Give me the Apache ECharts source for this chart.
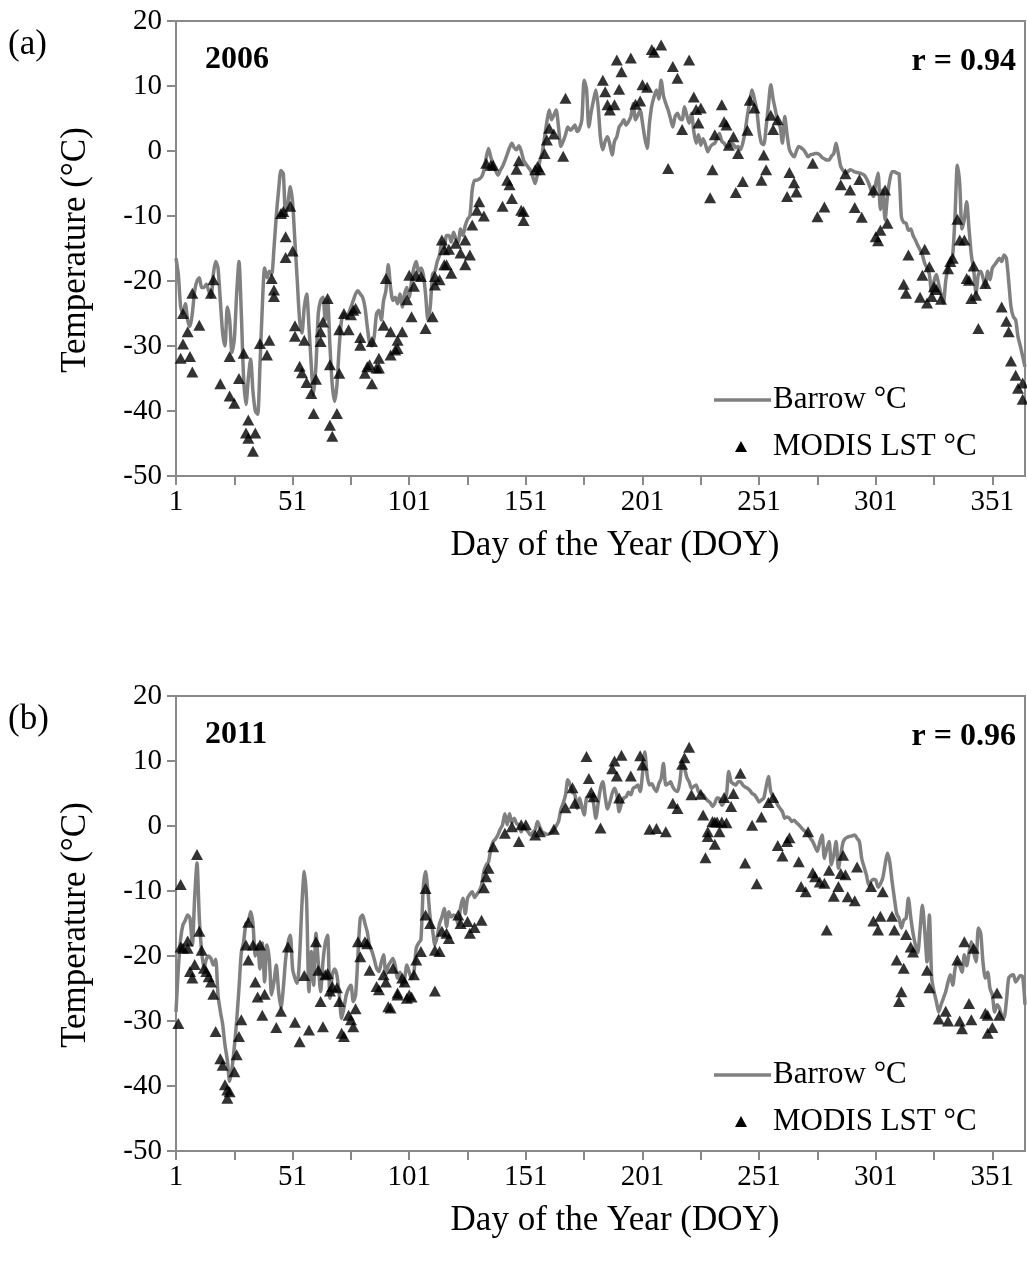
<!DOCTYPE html>
<html>
<head>
<meta charset="utf-8">
<script src="https://cdn.jsdelivr.net/npm/echarts/dist/echarts.min.js"></script>
<style>
html,body{margin:0;padding:0;background:#fff;}
#chart{width:1027px;height:1267px;}
</style>
</head>
<body>
<div id="chart"></div>
<script>
// ---------- DATA ----------
var xTickLabels = ['1','51','101','151','201','251','301','351'];
var yTicks = [-50,-40,-30,-20,-10,0,10,20];

// Barrow daily air temperature, DOY 1..365, 2006
var barrowA = [
-16.5,-19,-24,-25,-23.5,-26,-27,-25,-21.5,-20,
-19.5,-21,-21,-20.5,-21.5,-22.5,-19,-17,-18,-23,
-28,-30,-24,-26,-31,-29,-22,-17,-25,-35,
-39,-35,-32,-37,-40,-40.5,-33,-24,-18,-19.5,
-18.5,-19,-15,-10,-6,-3,-3.5,-10,-8,-5.5,
-8,-14,-20,-26,-28,-24,-22,-27,-33,-37.5,
-33,-25,-23,-22.5,-26,-23,-30,-36,-38.5,-36,
-30,-26,-25,-25.5,-25,-24,-23,-22,-21.5,-22,
-22.5,-24,-27,-29.5,-30,-28.5,-25,-24.5,-26,-23,
-21.5,-17.5,-21,-23,-22.5,-23.5,-22,-24,-22,-21,
-22.5,-20,-18,-17,-18.5,-18,-19,-22,-26,-24,
-19,-18.5,-17,-16,-14,-15,-13,-13,-14,-12.5,
-13.5,-14,-12,-13,-11.5,-10.5,-10,-6,-4.5,-4.5,
-4.3,-4,-3,-1,0.4,-1,-2,-3,-3.7,-3,
-2.4,-1.5,-0.5,0.5,1.2,0.5,0.2,0.8,0,-1.4,
-2,-2.5,-3,-4,-5,-3.5,-1.5,-0.3,2,4.5,
6.3,4.8,5.5,6.3,3.7,0.7,1.5,2.5,3.7,3.2,
3.5,4,3,3.5,4.8,10.9,9.5,3.7,6,7.8,
9.4,6.8,2,0.2,1.5,2.2,1,-0.6,1.5,2.2,
3.7,4.2,4.8,4,4.5,5.3,7.3,4.8,5.5,6.3,
4.3,2,0.4,4.3,7,8.4,9.4,8,10.9,8.5,
7.3,6.3,5,3.7,5.3,5.8,5,4.8,6.8,5.5,
4.3,5.8,3,1.2,2.5,0.9,1.9,1,-0.1,0.6,
1,1.2,2,2.7,1.5,1.2,0.7,0.7,1.2,1,
0.5,0.7,0.2,1.2,3,5.5,7.5,9.4,8,6.3,
3,1.2,1,3.7,7,10.2,8,6.3,4.5,3.7,
1.2,5.3,2.5,0.2,-0.5,-0.9,0,0.7,0.5,0.2,
-0.3,-0.9,-0.6,-0.5,-0.4,-0.4,-0.6,-1,-1.2,-1.4,
-1.4,-0.8,-0.4,1.2,-0.5,-2.4,-3,-3.4,-3.2,-2.9,
-3,-3.2,-3.3,-3.4,-3.5,-3.7,-4.2,-5,-6,-7,
-5,-3.4,-9,-6,-10.6,-7,-4.5,-3.2,-3.2,-3.4,
-3.5,-10.1,-11,-11.1,-12.2,-12,-13,-13.7,-14.5,-15.2,
-16,-17.3,-18,-19,-21.9,-20,-19,-20.5,-22,-23.4,
-20,-18,-17,-16,-10,-2.2,-5,-12,-10.5,-7.8,
-12,-16,-18.3,-21.9,-19,-18.5,-19.5,-20.9,-18.5,-19.8,
-18,-17.5,-17,-16.5,-17,-16,-16.5,-20,-24,-25.5,
-26,-28.6,-30,-31.6,-33.2
];

// MODIS LST [DOY, °C], 2006
var modisA = [
[3,-31.9],[4,-29.7],[4,-25],[6,-27.8],[7,-31.6],[8,-34],[8,-21.9],[11,-26.8],[16,-21.9],[17,-19.8],
[20,-35.8],[24,-31.6],[24,-37.7],[26,-38.8],[28,-35],[30,-31.1],[32,-41.4],[31,-43.4],[32,-44.2],[35,-43.4],
[34,-46.2],[37,-29.6],[40,-31.4],[41,-29.1],[42,-19.6],[43,-21.4],[43,-22.4],[46,-9.6],[47,-9.3],[50,-8.5],
[48,-13.2],[51,-15.4],[48,-16.4],[52,-26.9],[52,-28.5],[54,-33.1],[55,-34.1],[56,-29.1],[57,-35.6],[59,-37.3],
[60,-40.4],[61,-35.1],[63,-29.3],[63,-27.8],[64,-26.3],[66,-22.7],[67,-32.9],[67,-42.2],[68,-43.9],[70,-40.4],
[71,-34.2],[71,-27.5],[73,-25],[75,-27.5],[76,-25.2],[77,-24.5],[78,-24.2],[80,-28.7],[80,-29.9],[82,-34.2],
[83,-33.2],[84,-32.9],[85,-35.8],[85,-29.3],[87,-33.4],[88,-33.4],[88,-31.9],[90,-26.8],[91,-19.6],[93,-27.8],
[93,-31.4],[95,-30.6],[96,-29.1],[96,-30.4],[98,-27.8],[100,-22.9],[101,-19.1],[102,-25.5],[103,-20.8],[104,-19.1],
[106,-19.3],[108,-27.3],[111,-25.5],[112,-19.3],[112,-20.6],[114,-19.8],[115,-13.7],[116,-15.2],[116,-17.5],[117,-17.5],
[118,-15.1],[119,-18.8],[121,-14.2],[123,-15.7],[125,-13.7],[127,-16],[125,-17.5],[128,-11.4],[130,-9.1],[131,-7.8],
[133,-10],[134,-1.9],[136,-2.2],[137,-2.2],[141,-8.5],[143,-4.5],[144,-5.2],[145,-7.3],[147,-2.8],[148,-1.5],
[149,-9.1],[150,-9.3],[150,-10.7],[155,-2.9],[156,-2.4],[157,-2.9],[159,-0.4],[160,1.7],[161,3.5],[163,2.6],
[167,-0.8],[168,8.1],[184,10.9],[185,9.1],[186,7.1],[187,6.3],[189,7.1],[190,14],[192,12.2],[191,9.5],
[196,14.3],[198,7.2],[200,7.7],[201,10.2],[203,9.8],[205,15.6],[206,15.2],[209,16.3],[212,-2.7],[214,13],
[216,11.2],[218,3.3],[221,14],[223,8.3],[224,6.4],[225,4.3],[226,6.6],[231,-2.9],[230,-7.2],[232,2.5],
[235,7.1],[236,4.5],[237,4],[240,2.2],[238,0.9],[241,-6.4],[244,-4.7],[242,-0.4],[246,3.2],[247,7.8],
[249,6.6],[252,-4.5],[253,-0.6],[254,-2.9],[256,5.5],[257,3.3],[259,4.8],[263,-7],[264,-3.3],[266,-4.9],
[267,-6.3],[274,-1.9],[276,-10.1],[279,-8.6],[286,-5.2],[288,-3.5],[290,-6],[292,-8.7],[294,-4.4],[295,-10.2],
[300,-6],[305,-6],[306,-11.1],[303,-12.2],[301,-13.2],[302,-13.8],[313,-20.5],[314,-21.9],[315,-16],[320,-22.5],
[321,-19.1],[322,-15.1],[323,-23.4],[324,-17.8],[325,-22.4],[326,-20.9],[327,-21.3],[329,-22.8],[332,-18.1],[333,-17],
[334,-16.5],[336,-10.5],[337,-13.7],[339,-13.7],[340,-19.6],[341,-19.9],[342,-22.7],[343,-17.7],[344,-22.2],[345,-27.3],
[348,-20.4],[355,-24],[357,-26.2],[358,-27.8],[359,-32.3],[361,-34.5],[362,-36.5],[364,-35.7],[364,-38.2]
];

// Barrow daily air temperature, DOY 1..365, 2011
var barrowB = [
-28.6,-21.9,-17.3,-15.2,-14.5,-13.7,-14.2,-18.3,-11,-5.7,
-14.2,-19.3,-21.9,-20.5,-20,-20.4,-21.4,-20.5,-26,-28.5,
-30.5,-33.7,-36,-39.3,-37.3,-34,-30,-25,-19.5,-17.8,
-15,-14.7,-13.2,-15,-20,-18.3,-22,-18,-24,-18.3,
-20.5,-26,-24,-21.4,-25.5,-28,-25,-20.5,-18,-16.8,
-22,-23.4,-24.2,-20,-12,-7,-11.6,-25.5,-19.3,-24.5,
-16.5,-21,-25.5,-20.9,-18,-16.8,-26.5,-22.9,-22,-23,
-26,-29.6,-28,-26,-25,-24.5,-27,-26,-20,-14.2,
-13.7,-15,-16.3,-18.5,-19.3,-20.5,-21.9,-22.4,-21,-19.8,
-22.9,-21.5,-20.9,-20.4,-21.5,-23.4,-22.5,-24.5,-23.5,-21.4,
-22.5,-23.5,-22.5,-18.8,-18,-17.5,-9.6,-7,-10,-14.2,
-16,-18.3,-17,-15,-14,-12.7,-15.5,-13.2,-14,-13.7,
-14,-15.2,-12.5,-11.1,-13.5,-11.1,-10.5,-10.1,-11,-10.5,
-10,-9.1,-7,-6,-5.5,-3.5,-2.4,-2,-1.4,-0.5,
0.2,1.9,0.2,1.9,0.5,1.2,0.4,0.2,-0.9,0,
-0.5,-0.9,-1.4,-1,-0.6,0.7,-0.2,-0.9,-1.1,-1.3,
-1.2,-1,-0.6,0,0.7,2.5,3.5,4.8,7.1,6.3,
5.2,4.8,2.7,4.3,3,1.7,4.3,4.5,4.8,3.5,
1.2,3.5,5.8,6.8,4.5,2.6,3.6,5,5.8,4.8,
2.2,3.5,4.3,4.5,5.2,4.8,5.8,6,6.3,5.3,
8,11.4,7.8,6.3,6.5,5.8,5.3,6.5,7.3,9.6,
6.3,6.5,6.8,6,5.5,5.3,6.8,9.4,8.9,7.5,
6.8,5.8,6.1,6.3,5.3,5,4.8,4.3,3.9,3.6,
3,3.5,4.3,4.2,3.2,3.7,4.8,8.4,6.8,6.5,
6.3,6.8,6.8,6.3,6,5.8,5.5,5,4.8,4.3,
3.7,4,4.3,6,7.6,5.3,4.5,4,3.2,2.7,
2.2,1.2,1.4,1.2,0.7,0.9,0.5,0.2,-0.2,-0.6,
-0.9,-1.3,-1.9,-2.4,-3.2,-3.9,-2.5,-1.4,-5,-3.5,
-2.4,-6,-4.5,-2.4,-6.5,-4.5,-2.5,-1.9,-1.7,-1.6,
-1.5,-1.4,-1.9,-2.4,-5,-6.3,-7.5,-9.1,-8.5,-8.2,
-8.3,-9.4,-8.9,-8,-6,-4.2,-5.5,-8.5,-11.1,-13.5,
-14.2,-15.7,-14.5,-14.2,-11.1,-14,-16.5,-18.3,-19.5,-16,
-12.2,-16,-20.9,-13.7,-23.4,-25.5,-27,-28.6,-27.5,-26.5,
-25.5,-24,-22.9,-24.5,-22,-20.9,-21.5,-22.5,-19.8,-21.5,
-19.5,-17.8,-19.5,-20.9,-15.7,-16.5,-21,-23.4,-22.5,-25,
-26,-28.6,-27.5,-28,-29.1,-29.5,-27,-23.4,-23,-22.9,
-24,-23.5,-23,-23.2,-27.5
];

// MODIS LST [DOY, °C], 2011
var modisB = [
[2,-30.4],[3,-18.6],[4,-18.8],[6,-18.8],[7,-22.4],[8,-23.4],[9,-21.3],[12,-19.1],[13,-21.9],[14,-22.4],
[15,-23.2],[16,-24],[17,-25.9],[18,-31.6],[20,-35.8],[21,-36.8],[22,-39.8],[23,-41.9],[23,-40.6],[24,-40.9],
[26,-37.8],[27,-35.2],[28,-32.4],[29,-29.8],[31,-18.3],[32,-20.6],[34,-18.3],[35,-24],[36,-26.3],[37,-18.3],
[38,-29.1],[39,-25.9],[44,-31],[46,-28.5],[49,-18.6],[52,-30.2],[54,-33.2],[56,-23],[58,-31.4],[61,-17.8],
[62,-22.2],[63,-27],[64,-30.9],[65,-22.9],[66,-22.7],[67,-25.4],[68,-24.7],[70,-24.9],[71,-27],[72,-31.9],
[73,-32.4],[75,-29.1],[76,-29.8],[77,-30.9],[78,-28.1],[79,-17.8],[80,-20.1],[82,-17.8],[83,-18.1],[84,-22.2],
[87,-24.7],[88,-25.2],[90,-22.9],[91,-24],[92,-27.8],[93,-28],[94,-21.9],[96,-26],[96,-25.7],[98,-23.4],
[99,-24],[100,-26.5],[101,-26],[102,-26.3],[103,-22.9],[104,-20.6],[106,-19.3],[112,-25.4],[112,-19.1],[114,-19.3],
[3,-9],[10,-4.4],[11,-16.2],[6,-17.7],[32,-14.8],[108,-9.6],[108,-13.7],[110,-15],[115,-16.2],[117,-16.5],
[118,-17.3],[122,-13.7],[123,-15],[126,-14.7],[127,-16.5],[129,-15.6],[132,-14.5],[133,-9.5],[134,-7.8],[135,-6.5],
[137,-3.2],[142,-1.1],[145,-0.1],[148,-2.4],[149,0.2],[151,0.2],[155,-1.4],[157,-0.9],[163,-0.5],[168,2.8],
[171,5.9],[172,3.5],[177,10.7],[178,7.3],[179,5.2],[180,4.5],[183,-0.3],[188,8.8],[189,10],[190,7.7],
[192,10.9],[191,4.3],[196,7.7],[200,10.8],[201,9.4],[204,-0.5],[207,-0.4],[211,-0.9],[214,3.5],[216,2.7],
[218,9.5],[219,10.5],[221,12.1],[222,4.8],[226,4.9],[227,1.7],[229,-0.9],[228,-4.9],[229,-1.6],[232,-2.8],
[231,0.7],[232,0.6],[233,0.6],[235,0.6],[237,0.5],[234,-0.9],[236,4.4],[239,3],[240,5],[243,8.1],
[245,-5.7],[248,0.1],[250,-8.9],[252,1.4],[255,3.6],[257,4.4],[259,-3],[261,-4.6],[263,-2.4],[264,-1.8],
[268,-5.5],[269,-9.3],[271,-10.1],[272,-0.9],[274,-7.2],[275,-7.8],[277,-8.6],[279,-8.8],[280,-16],[281,-6.8],
[283,-10.8],[285,-9.3],[286,-7.3],[287,-4.5],[288,-7.5],[289,-10.9],[292,-11.5],[293,-6.3],[299,-9.3],[300,-14.6],
[302,-16],[303,-13.9],[304,-10.1],[308,-13.9],[309,-16],[314,-16.7],[339,-17.8],[310,-20.6],[313,-21.9],[312,-25.5],
[311,-27],[316,-18.6],[317,-19.4],[323,-22.2],[324,-24.9],[328,-29.7],[331,-28.5],[332,-30],[337,-30],[338,-31.2],
[336,-20.6],[341,-27.3],[342,-29.8],[343,-18.8],[348,-28.8],[349,-29.1],[349,-31.9],[351,-31],[354,-29.1],[353,-25.7]
];

// ---------- BUILD ----------
var days = [];
for (var i = 1; i <= 365; i++) days.push(String(i));

var AX = '#898989';
var FONT = '"Liberation Serif", "Times New Roman", serif';

function xAxisFor(g) {
  return {
    type: 'category', gridIndex: g, data: days, boundaryGap: false,
    axisLine: {show: true, onZero: false, lineStyle: {color: AX, width: 2}},
    axisTick: {show: true, length: 9, lineStyle: {color: AX, width: 2},
      interval: function (idx) { return idx % 25 === 0; }},
    axisLabel: {color: '#000', fontFamily: FONT, fontSize: 29, margin: 12,
      interval: function (idx, val) { return xTickLabels.indexOf(val) >= 0; }},
    splitLine: {show: false}
  };
}
function yAxisFor(g) {
  return {
    type: 'value', gridIndex: g, min: yTicks[0], max: yTicks[yTicks.length - 1], interval: 10,
    axisLine: {show: true, onZero: false, lineStyle: {color: AX, width: 2}},
    axisTick: {show: true, length: 9, lineStyle: {color: AX, width: 2}},
    axisLabel: {color: '#000', fontFamily: FONT, fontSize: 29, margin: 14},
    splitLine: {show: false}
  };
}
function toIdx(arr) { return arr.map(function (p) { return [p[0] - 1, p[1]]; }); }

function panelGraphics(dy, tag, year, r) {
  var t = function (x, y, text, size, opts) {
    opts = opts || {};
    return {type: 'text', x: x, y: y, rotation: opts.rot || 0, z: 100,
      style: {text: text, fontFamily: FONT, fontSize: size, fontWeight: opts.bold ? 'bold' : 'normal',
        fill: '#000', align: opts.align || 'left', verticalAlign: 'middle'}};
  };
  return [
    t(8, 45 + dy, tag, 35),
    t(205, 60 + dy, year, 32, {bold: true}),
    t(1016, 62 + dy, r, 32, {bold: true, align: 'right'}),
    t(76, 250 + dy, 'Temperature (°C)', 35, {align: 'center', rot: Math.PI / 2}),
    t(615, 546 + dy, 'Day of the Year (DOY)', 35, {align: 'center'}),
    {type: 'line', z: 100, shape: {x1: 714, y1: 400 + dy, x2: 771, y2: 400 + dy},
      style: {stroke: '#808080', lineWidth: 3.5}},
    t(773, 400 + dy, 'Barrow °C', 31),
    {type: 'polygon', z: 100, shape: {points: [[741, 441 + dy], [747, 452 + dy], [735, 452 + dy]]},
      style: {fill: '#000'}},
    t(773, 447 + dy, 'MODIS LST °C', 31)
  ];
}

var option = {
  animation: false,
  backgroundColor: '#fff',
  grid: [
    {left: 176, top: 21, width: 849, height: 455, show: true, borderColor: AX, borderWidth: 2, backgroundColor: 'transparent'},
    {left: 176, top: 696, width: 849, height: 455, show: true, borderColor: AX, borderWidth: 2, backgroundColor: 'transparent'}
  ],
  xAxis: [xAxisFor(0), xAxisFor(1)],
  yAxis: [yAxisFor(0), yAxisFor(1)],
  series: [
    {name: 'Barrow °C', type: 'line', xAxisIndex: 0, yAxisIndex: 0, data: barrowA, showSymbol: false,
      smooth: 0.25, lineStyle: {color: '#808080', width: 3.5}, z: 2},
    {name: 'MODIS LST °C', type: 'scatter', xAxisIndex: 0, yAxisIndex: 0, data: toIdx(modisA),
      symbol: 'triangle', symbolSize: [12, 11], itemStyle: {color: '#000'}, z: 3},
    {name: 'Barrow °C', type: 'line', xAxisIndex: 1, yAxisIndex: 1, data: barrowB, showSymbol: false,
      smooth: 0.25, lineStyle: {color: '#808080', width: 3.5}, z: 2},
    {name: 'MODIS LST °C', type: 'scatter', xAxisIndex: 1, yAxisIndex: 1, data: toIdx(modisB),
      symbol: 'triangle', symbolSize: [12, 11], itemStyle: {color: '#000'}, z: 3}
  ],
  graphic: panelGraphics(0, '(a)', '2006', 'r = 0.94').concat(panelGraphics(675, '(b)', '2011', 'r = 0.96'))
};

var chart = echarts.init(document.getElementById('chart'), null, {renderer: 'canvas'});
chart.setOption(option);
</script>
</body>
</html>
